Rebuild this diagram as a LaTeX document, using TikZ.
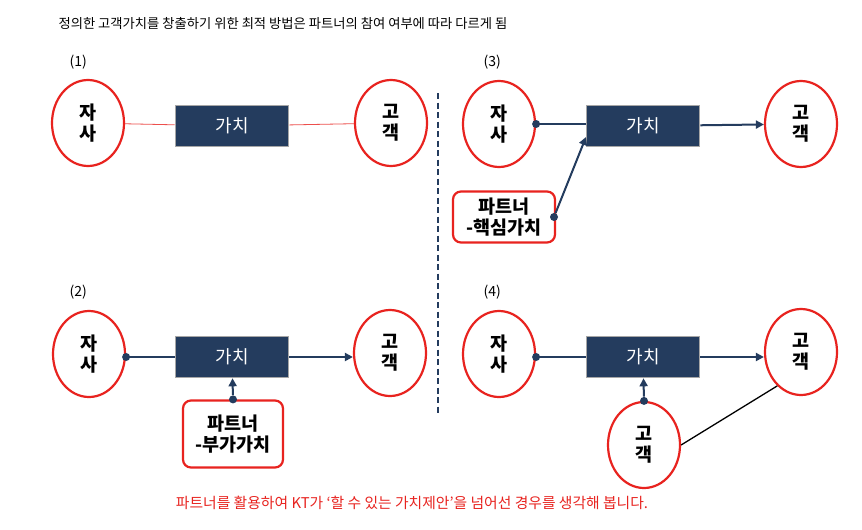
\documentclass[tikz,border=0pt]{standalone}
\usepackage{fontspec}
\setmainfont{Noto Sans CJK KR}
\usetikzlibrary{arrows.meta,shapes.geometric}
\definecolor{navy}{HTML}{243C5E}
\definecolor{ered}{HTML}{E8231F}
\tikzset{
  x=1pt,y=-1pt,
  circ/.style={ellipse,draw=ered,line width=2.2pt,minimum width=72pt,minimum height=86pt,inner sep=0pt,align=center,font=\fontsize{18.5}{21}\selectfont\bfseries,fill=white},
  valbox/.style={draw=gray!70,line width=1.6pt,fill=navy,minimum width=113pt,minimum height=41pt,text=white,font=\fontsize{18}{20}\selectfont},
  partbox/.style={draw=ered,line width=2.2pt,rounded corners=8pt,align=center,font=\fontsize{18.5}{21}\selectfont\bfseries,inner sep=0pt,fill=white},
  conn/.style={navy,line width=2pt},
  arr/.style={conn,-{Triangle[length=8pt,width=8pt]}},
  dot/.style={circle,fill=navy,inner sep=0pt,minimum size=8pt},
  lbl/.style={font=\fontsize{14}{16}\selectfont,anchor=west},
}
\begin{document}
\begin{tikzpicture}
\useasboundingbox[fill=white] (0,0) rectangle (862,530);
\node[font=\fontsize{13.3}{15}\selectfont,anchor=west] (title) at (55,23) {정의한 고객가치를 창출하기 위한 최적 방법은 파트너의 참여 여부에 따라 다르게 됨};

% dashed divider
\coordinate (d1) at (438,93);
\coordinate (d2) at (438,413);
\draw[navy,line width=2.6pt,dash pattern=on 6pt off 3.5pt] (d1) -- (d2);

% (1)
\node[lbl] (l1) at (66,62) {(1)};
\node[circ] (a1) at (88,123) {자\\사};
\node[valbox] (v1) at (232,126) {가치};
\node[circ] (c1) at (391,123) {고\\객};
\draw[ered!80,line width=0.8pt] (a1) -- (v1);
\draw[ered!80,line width=0.8pt] (v1) -- (c1);

% (3)
\node[lbl] (l3) at (480,62) {(3)};
\node[circ] (a3) at (499,124) {자\\사};
\node[valbox] (v3) at (643,126) {가치};
\node[circ] (c3) at (801,124) {고\\객};
\node[partbox,minimum width=102pt,minimum height=51pt] (p3) at (504,217) {파트너\\-핵심가치};
\node[dot] (a3d) at (a3.east) {};
\draw[conn] (a3d) -- (v3.west |- a3d);
\draw[arr] (v3) -- (c3);
\node[dot] (p3d) at (554,217) {};
\coordinate (v3t) at (586,137);
\draw[arr] (p3d) -- (v3t);

% (2)
\node[lbl] (l2) at (66,292) {(2)};
\node[circ] (a2) at (89,354) {자\\사};
\node[valbox] (v2) at (232,357) {가치};
\node[circ] (c2) at (390,353) {고\\객};
\node[partbox,minimum width=100pt,minimum height=67pt] (p2) at (233,434) {파트너\\-부가가치};
\node[dot] (a2d) at (a2.east |- v2) {};
\draw[conn] (a2d) -- (v2);
\draw[arr] (v2) -- (c2.west |- v2);
\node[dot] (p2d) at (p2.north) {};
\draw[arr] (p2d) -- (v2);

% (4)
\node[lbl] (l4) at (480,292) {(4)};
\node[circ] (a4) at (499,354) {자\\사};
\node[valbox] (v4) at (643,357) {가치};
\node[circ] (c4) at (801,352) {고\\객};
\node[circ] (b4) at (644,445) {고\\객};
\node[dot] (a4d) at (a4.east |- v4) {};
\draw[conn] (a4d) -- (v4);
\draw[arr] (v4) -- (c4.west |- v4);
\node[dot] (b4d) at (b4.north) {};
\draw[arr] (b4d) -- (v4);
\draw[black,line width=1.3pt] (b4.east) -- (c4.-125);

\node[font=\fontsize{14.8}{17}\selectfont,text=ered] (foot) at (412,503) {파트너를 활용하여 KT가 ‘할 수 있는 가치제안’을 넘어선 경우를 생각해 봅니다.};
\end{tikzpicture}
\end{document}
